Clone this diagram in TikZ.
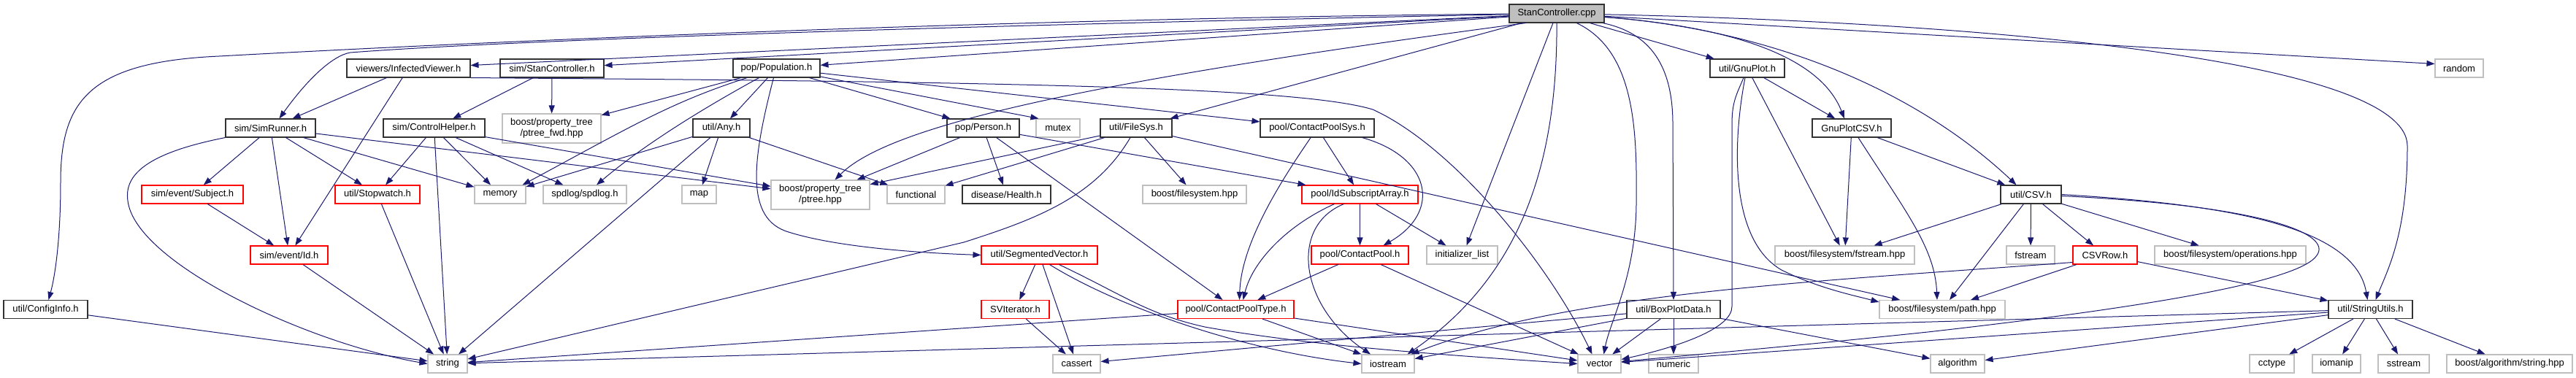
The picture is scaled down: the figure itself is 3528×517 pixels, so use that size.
\documentclass[tikz,border=0pt]{standalone}
\usepackage{fontspec}
\setmainfont{Liberation Sans}
\usetikzlibrary{arrows.meta}
\definecolor{edgec}{RGB}{25,25,112}
\definecolor{extc}{RGB}{191,191,191}
\definecolor{docc}{RGB}{50,50,50}
\definecolor{redc}{RGB}{255,0,0}
\definecolor{rootfill}{RGB}{191,191,191}
\newcommand{\nodefont}{\fontsize{13}{15}\selectfont}
\begin{document}
\begin{tikzpicture}[x=1pt,y=-1pt,
  base/.style={rectangle, inner sep=0pt, minimum height=25pt, font=\nodefont, line width=1.1pt, text=black, fill=white, align=center},
  doc/.style={base, draw=docc},
  redbox/.style={base, draw=redc},
  ext/.style={base, draw=extc},
  root/.style={base, draw=docc, fill=rootfill},
  dep/.style={draw=edgec, line width=1pt, -{Triangle[length=11pt,width=8pt]}}]
\fill[white] (0,0) rectangle (3528,517);
\useasboundingbox (0,0) rectangle (3528,517);
% row 0
\node[root, minimum width=130pt] (S) at (2132,18.5) {StanController.cpp};
% row 1
\node[doc, minimum width=169pt] (IV) at (559.5,93.5) {viewers/InfectedViewer.h};
\node[doc, minimum width=142pt] (SCh) at (756,93.5) {sim/StanController.h};
\node[doc, minimum width=119pt] (Pop) at (1063.5,93.5) {pop/Population.h};
\node[doc, minimum width=102pt] (GP) at (2393,93.5) {util/GnuPlot.h};
\node[ext, minimum width=66pt] (rnd) at (3368,93.5) {random};
% row 2
\node[doc, minimum width=123pt] (SR) at (370.5,175.5) {sim/SimRunner.h};
\node[doc, minimum width=139pt] (CH) at (594.5,175.5) {sim/ControlHelper.h};
\node[ext, minimum width=135pt, minimum height=40pt] (ptfwd) at (755.5,176) {boost/property\_tree\\/ptree\_fwd.hpp};
\node[doc, minimum width=78pt] (Any) at (988,175.5) {util/Any.h};
\node[doc, minimum width=99pt] (Person) at (1346.5,175.5) {pop/Person.h};
\node[ext, minimum width=60pt] (mutex) at (1449,175.5) {mutex};
\node[doc, minimum width=98pt] (FS) at (1556,175.5) {util/FileSys.h};
\node[doc, minimum width=156pt] (CPS) at (1804,175.5) {pool/ContactPoolSys.h};
\node[doc, minimum width=108pt] (GPC) at (2536,175.5) {GnuPlotCSV.h};
% row 3
\node[redbox, minimum width=139pt] (Subj) at (263.5,266.5) {sim/event/Subject.h};
\node[redbox, minimum width=116pt] (SW) at (517,266.5) {util/Stopwatch.h};
\node[ext, minimum width=70pt] (mem) at (685,266.5) {memory};
\node[ext, minimum width=114pt] (spd) at (801,266.5) {spdlog/spdlog.h};
\node[ext, minimum width=47pt] (map) at (957.5,266.5) {map};
\node[ext, minimum width=135pt, minimum height=40pt] (pt) at (1123.5,267) {boost/property\_tree\\/ptree.hpp};
\node[ext, minimum width=79pt] (func) at (1254.5,266.5) {functional};
\node[doc, minimum width=121pt] (Health) at (1378.5,266.5) {disease/Health.h};
\node[ext, minimum width=142pt] (fsh) at (1636,266.5) {boost/filesystem.hpp};
\node[redbox, minimum width=159pt] (ISA) at (1862.5,266.5) {pool/IdSubscriptArray.h};
\node[doc, minimum width=83pt] (CSV) at (2781.5,266.5) {util/CSV.h};
% row 4
\node[redbox, minimum width=106pt] (Id) at (396,349.5) {sim/event/Id.h};
\node[redbox, minimum width=159pt] (SV) at (1423.5,349.5) {util/SegmentedVector.h};
\node[redbox, minimum width=133pt] (CP) at (1862.5,349.5) {pool/ContactPool.h};
\node[ext, minimum width=97pt] (il) at (2002.5,349.5) {initializer\_list};
\node[ext, minimum width=191pt] (fsth) at (2526.5,349.5) {boost/filesystem/fstream.hpp};
\node[ext, minimum width=66pt] (fst) at (2781,349.5) {fstream};
\node[redbox, minimum width=88pt] (CSVRow) at (2883,349.5) {CSVRow.h};
\node[ext, minimum width=207pt] (ops) at (3054.5,349.5) {boost/filesystem/operations.hpp};
% row 5
\node[doc, minimum width=115pt] (CI) at (62.5,424) {util/ConfigInfo.h};
\node[redbox, minimum width=93pt] (SVI) at (1390.5,424) {SVIterator.h};
\node[redbox, minimum width=159pt] (CPT) at (1692.5,424) {pool/ContactPoolType.h};
\node[doc, minimum width=128pt] (BPD) at (2292,424) {util/BoxPlotData.h};
\node[ext, minimum width=172pt] (fspath) at (2660,424) {boost/filesystem/path.hpp};
\node[doc, minimum width=115pt] (SU) at (3246.5,424) {util/StringUtils.h};
% row 6
\node[ext, minimum width=54pt] (str) at (613,498.5) {string};
\node[ext, minimum width=65pt] (cassert) at (1474.5,498.5) {cassert};
\node[ext, minimum width=72pt] (ios) at (1901,498.5) {iostream};
\node[ext, minimum width=59pt] (vec) at (2190.5,498.5) {vector};
\node[ext, minimum width=68pt] (num) at (2292,498.5) {numeric};
\node[ext, minimum width=74pt] (alg) at (2681,498.5) {algorithm};
\node[ext, minimum width=61pt] (cct) at (3111.5,498.5) {cctype};
\node[ext, minimum width=66pt] (iom) at (3200,498.5) {iomanip};
\node[ext, minimum width=70pt] (sst) at (3292,498.5) {sstream};
\node[ext, minimum width=172pt] (algs) at (3437,498.5) {boost/algorithm/string.hpp};

% edges from StanController.cpp
\draw[dep] (S) -- (IV);
\draw[dep] (S) -- (SCh);
\draw[dep] (S) -- (Pop);
\draw[dep] (S) .. controls (1300,35) and (700,55) .. (480,72) .. controls (455,76) and (420,110) .. ([xshift=12pt]SR.north);
\draw[dep] (S) .. controls (1400,25) and (700,55) .. (300,77) .. controls (120,85) and (83,140) .. (83,250) .. controls (83,330) and (75,380) .. ([xshift=4pt]CI.north);
\draw[dep] ([xshift=23pt]S.south west) .. controls (1500,110) and (1220,170) .. ([xshift=20pt]pt.north);
\draw[dep] (S) -- ([xshift=-3pt]FS.north east);
\draw[dep] (S) -- ([xshift=6pt]il.north);
\draw[dep] (S) .. controls (2133,230) and (2080,380) .. ([xshift=-10pt]ios.north east);
\draw[dep] (S) .. controls (2240,70) and (2242,180) .. (2241,280) .. controls (2240,380) and (2205,440) .. ([xshift=6pt]vec.north);
\draw[dep] (S) .. controls (2260,45) and (2291,90) .. (2291,170) -- (BPD.north);
\draw[dep] (S) -- (GP);
\draw[dep] (S) .. controls (2350,35) and (2490,70) .. ([xshift=-10pt]GPC.north);
\draw[dep] (S) .. controls (2420,40) and (2620,120) .. ([xshift=-20pt]CSV.north);
\draw[dep] (S) .. controls (2700,30) and (3297,80) .. (3297,200) .. controls (3297,320) and (3270,370) .. ([xshift=7pt]SU.north);
\draw[dep] (S) -- ([yshift=6pt]rnd.west);
% InfectedViewer
\draw[dep] (IV) -- (SR);
\draw[dep] (IV) -- (Id);
\draw[dep] (IV.south east) .. controls (1400,112) and (1780,120) .. (1880,150) .. controls (1990,200) and (2120,360) .. ([xshift=-10pt]vec.north);
% StanController.h
\draw[dep] (SCh) -- (CH);
\draw[dep] (SCh) -- (ptfwd);
% Population
\draw[dep] (Pop) -- (Any);
\draw[dep] (Pop) -- (Person);
\draw[dep] (Pop) -- ([xshift=4pt]mutex.north west);
\draw[dep] (Pop) -- (CPS);
\draw[dep] (Pop) -- (ptfwd);
\draw[dep] (Pop) .. controls (920,140) and (870,170) .. ([xshift=-5pt]mem.north east);
\draw[dep] (Pop) .. controls (960,150) and (880,200) .. ([xshift=16pt]spd.north);
\draw[dep] ([xshift=-4pt]Pop.south) .. controls (1030,220) and (1020,300) .. (1080,318) .. controls (1150,340) and (1270,347) .. (SV.west);
% Any
\draw[dep] (Any) -- (map);
\draw[dep] (Any) -- (func);
\draw[dep] (Any) -- (mem);
\draw[dep] (Any) -- (str);
% Person
\draw[dep] (Person) -- (Health);
\draw[dep] (Person) -- ([xshift=-18pt]CPT.north);
\draw[dep] (Person) -- (pt);
\draw[dep] (Person) -- (ISA);
% FileSys
\draw[dep] (FS) -- (fsh);
\draw[dep] (FS) -- (pt);
\draw[dep] (FS) -- (func);
\draw[dep] ([xshift=-8pt]FS.south) .. controls (1500,270) and (1420,300) .. (1320,332) -- (str);
\draw[dep] (FS) -- (fspath);
% ContactPoolSys
\draw[dep] (CPS) -- (ISA);
\draw[dep] ([xshift=-17pt]CPS.south east) .. controls (1960,215) and (1975,290) .. ([xshift=32pt]CP.north);
\draw[dep] (CPS) .. controls (1760,240) and (1700,330) .. ([xshift=5pt]CPT.north);
% IdSubscriptArray
\draw[dep] (ISA) -- (CP);
\draw[dep] (ISA) -- (il);
\draw[dep] ([xshift=-22pt]ISA.south) .. controls (1765,310) and (1780,420) .. ([xshift=-24pt]ios.north);
\draw[dep] ([xshift=-35pt]ISA.south) .. controls (1760,310) and (1715,360) .. ([xshift=10pt]CPT.north);
% ContactPool
\draw[dep] (CP) -- (CPT);
\draw[dep] (CP) -- (vec);
% SegmentedVector
\draw[dep] (SV) -- (SVI);
\draw[dep] (SV) -- (cassert);
\draw[dep] ([xshift=14pt]SV.south) .. controls (1530,420) and (1700,480) .. (ios.west);
\draw[dep] ([xshift=27pt]SV.south) .. controls (1540,405) and (1570,430) .. (1650,448) .. controls (1800,475) and (2000,488) .. (vec.west);
\draw[dep] (SVI) -- (cassert);
% ContactPoolType
\draw[dep] (CPT) -- (str);
\draw[dep] (CPT) -- (ios);
\draw[dep] (CPT) -- (vec);
% ConfigInfo
\draw[dep] (CI) -- (str);
% SimRunner
\draw[dep] (SR) -- (Subj);
\draw[dep] (SR) -- (Id);
\draw[dep] (SR) -- (SW);
\draw[dep] (SR) -- (mem);
\draw[dep] (SR) -- (pt);
\draw[dep] (SR.south west) .. controls (200,210) and (170,240) .. (175,275) .. controls (185,360) and (420,470) .. (str.west);
\draw[dep] (Subj) -- (Id);
\draw[dep] (Id) -- (str);
% ControlHelper
\draw[dep] (CH) -- (SW);
\draw[dep] (CH) -- (str);
\draw[dep] (CH) -- (mem);
\draw[dep] (CH) -- (spd);
\draw[dep] (CH) -- (pt);
\draw[dep] (SW) -- (str);
% GnuPlot
\draw[dep] (GP) -- (GPC);
\draw[dep] (GP) -- (fsth);
\draw[dep] ([xshift=-5pt]GP.south) .. controls (2378,130) and (2372,140) .. (2372,170) -- (2372,420) .. controls (2372,450) and (2300,475) .. ([yshift=6pt]vec.east);
\draw[dep] ([xshift=-3pt]GP.south) .. controls (2372,200) and (2370,330) .. (2440,370) .. controls (2490,395) and (2540,405) .. ([yshift=-3pt]fspath.north west);
% GnuPlotCSV
\draw[dep] (GPC) -- (fsth);
\draw[dep] (GPC) -- (CSV);
\draw[dep] ([xshift=9pt]GPC.south) .. controls (2610,290) and (2650,340) .. ([xshift=-7pt]fspath.north);
% CSV
\draw[dep] (CSV) -- (fsth);
\draw[dep] (CSV) -- (fspath);
\draw[dep] (CSV) -- (fst);
\draw[dep] (CSV) -- (CSVRow);
\draw[dep] (CSV) -- (ops);
\draw[dep] (CSV.east) .. controls (3050,280) and (3225,310) .. ([xshift=-4pt]SU.north);
\draw[dep] ([yshift=-2pt]CSV.east) .. controls (3100,282) and (3195,320) .. (3173,350) .. controls (3150,385) and (2950,420) .. (2640,455) .. controls (2450,475) and (2300,488) .. ([yshift=3pt]vec.east);
% CSVRow
\draw[dep] (CSVRow) -- (fspath);
\draw[dep] (CSVRow) -- (SU);
\draw[dep] ([yshift=-10pt]CSVRow.west) .. controls (2500,385) and (2150,400) .. ([xshift=-5pt]ios.north east);
% BoxPlotData
\draw[dep] (BPD) -- (vec);
\draw[dep] (BPD) -- (num);
\draw[dep] (BPD) -- (alg);
\draw[dep] (BPD) -- (ios);
\draw[dep] (BPD) -- (cassert);
% StringUtils
\draw[dep] (SU) -- (str);
\draw[dep] (SU) -- (vec);
\draw[dep] (SU) -- (alg);
\draw[dep] (SU) -- (cct);
\draw[dep] (SU) -- (iom);
\draw[dep] (SU) -- (sst);
\draw[dep] (SU) -- (algs);
\end{tikzpicture}
\end{document}
